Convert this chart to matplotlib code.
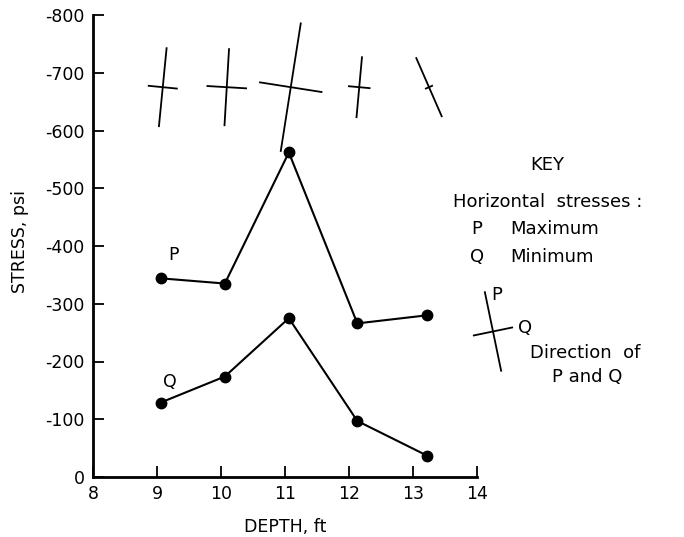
import numpy as np
import matplotlib
matplotlib.use("Agg")
import matplotlib.pyplot as plt

# Horizontal stress measurements by depth
depth_ft = [9.06, 10.06, 11.06, 12.13, 13.22]
stress_p = [-344, -335, -562, -266, -280]   # maximum horizontal stress, psi
stress_q = [-129, -174, -275, -97, -37]     # minimum horizontal stress, psi
# tilt of the P direction from vertical, degrees (positive = top leans right)
p_tilt_deg = [5.6, 3.4, 8.9, 5.2, -23.6]

x_ticks = [8, 9, 10, 11, 12, 13, 14]
y_ticks = [0, -100, -200, -300, -400, -500, -600, -700, -800]
y_tick_labels = ["0", "-100", "-200", "-300", "-400", "-500", "-600", "-700", "-800"]

W, H = 684, 537
DPI = 100
ARM_PX_PER_PSI = 0.233   # length of a direction arm per psi of stress
CROSS_Y = -675           # height at which the direction crosses sit
FS = 12.5

plt.rcParams['axes.unicode_minus'] = False
plt.rcParams['font.family'] = 'DejaVu Sans'

fig = plt.figure(figsize=(W / DPI, H / DPI), dpi=DPI)
ax = fig.add_axes([93 / W, 1 - 477 / H, 384 / W, 462 / H])

ax.plot(depth_ft, stress_p, color='black', lw=1.5, marker='o', ms=7.5)
ax.plot(depth_ft, stress_q, color='black', lw=1.5, marker='o', ms=7.5)

ax.set_xlim(8, 14)
ax.set_ylim(0, -800)
ax.set_xticks(x_ticks)
ax.set_yticks(y_ticks)
ax.set_yticklabels(y_tick_labels)
ax.tick_params(direction='in', length=8, width=1.3, labelsize=FS, pad=6)

for side in ['top', 'right']:
    ax.spines[side].set_visible(False)
for side in ['left', 'bottom']:
    ax.spines[side].set_linewidth(2)

ax.set_xlabel("DEPTH, ft", fontsize=FS)
ax.set_ylabel("STRESS, psi", fontsize=FS)
ax.xaxis.set_label_coords(0.5, -0.088)
ax.yaxis.set_label_coords(-0.167, 0.51)

# pixels per data unit, used to draw the crosses with true right angles
px_x = 384 / 6.0
px_y = 462 / 800.0


def draw_cross(xc, yc, p_len_px, q_len_px, tilt_deg):
    a = np.radians(tilt_deg)
    # P arm along (sin a, cos a) in screen space, Q arm perpendicular
    ux, uy = np.sin(a), np.cos(a)
    vx, vy = np.cos(a), -np.sin(a)
    for length, dx, dy in [(p_len_px, ux, uy), (q_len_px, vx, vy)]:
        hx = 0.5 * length * dx / px_x
        hy = -0.5 * length * dy / px_y   # y axis runs negative upward
        ax.plot([xc - hx, xc + hx], [yc - hy, yc + hy], color='black',
                lw=1.3, clip_on=False, solid_capstyle='butt')


for x, p, q, t in zip(depth_ft, stress_p, stress_q, p_tilt_deg):
    draw_cross(x + 0.03, CROSS_Y, abs(p) * ARM_PX_PER_PSI, abs(q) * ARM_PX_PER_PSI, t)

ax.text(9.25, -385, "P", fontsize=FS, ha='center', va='center')
ax.text(9.2, -165, "Q", fontsize=FS, ha='center', va='center')

# key
draw_cross(14.25, -252, 82, 41, -11.7)


def ftext(x, y, s, **kw):
    fig.text(x / W, 1 - y / H, s, fontsize=13, va='center', **kw)


ftext(547, 165, "KEY", ha='center')
ftext(453, 202, "Horizontal  stresses :", ha='left')
ftext(477, 229, "P", ha='center')
ftext(510, 229, "Maximum", ha='left')
ftext(477, 257, "Q", ha='center')
ftext(510, 257, "Minimum", ha='left')
ftext(497, 295, "P", ha='center')
ftext(525, 328, "Q", ha='center')
ftext(585, 353, "Direction  of", ha='center')
ftext(587, 377, "P and Q", ha='center')

fig.savefig("out.png", dpi=DPI)
